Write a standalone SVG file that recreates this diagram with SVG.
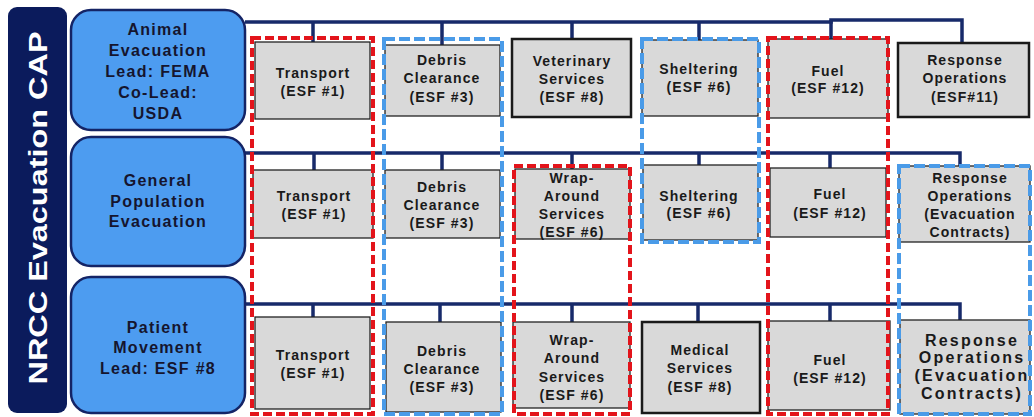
<svg xmlns="http://www.w3.org/2000/svg" width="1034" height="417" viewBox="0 0 1034 417">
<style>
.bar{fill:#0b1b5c}
.title{font-family:"Liberation Sans",Arial,sans-serif;font-weight:bold;font-size:26px;fill:#ffffff}
.cap{fill:#4d9cf0;stroke:#142466;stroke-width:2.5}
.ct{font-family:"Liberation Sans",Arial,sans-serif;font-weight:bold;font-size:16px;letter-spacing:1.3px;fill:#15152e;text-anchor:middle}
.box{fill:#d9d9d9;stroke:#222;stroke-width:1.3}
.boxs{fill:#d9d9d9;stroke:#1a1a1a;stroke-width:2.5}
.t{font-family:"Liberation Sans",Arial,sans-serif;font-weight:bold;font-size:14px;letter-spacing:1.1px;fill:#1a1a1a;text-anchor:middle}
.tb{font-family:"Liberation Sans",Arial,sans-serif;font-weight:bold;font-size:16px;letter-spacing:2.2px;fill:#1a1a1a;text-anchor:middle}
.con{fill:none;stroke:#172a6a;stroke-width:3.5}
.red{fill:none;stroke:#e3141b;stroke-width:4;stroke-dasharray:9 4}
.blue{fill:none;stroke:#4a9be8;stroke-width:4;stroke-dasharray:11 4}
</style>
<rect width="1034" height="417" fill="#ffffff"/>
<g id="title-bar">
<rect class="bar" x="8" y="7" width="59" height="406" rx="9"/>
<text class="title" transform="translate(47,208) rotate(-90)" text-anchor="middle" textLength="353" lengthAdjust="spacingAndGlyphs">NRCC Evacuation CAP</text>
</g>
<g id="connectors">
<path class="con" d="M245,22 H831 V20 H962 V43"/>
<path class="con" d="M313,22 V42 M442,22 V45 M572,22 V39 M699,22 V40 M831,20 V39"/>
<path class="con" d="M245,153 H960 V166"/>
<path class="con" d="M314,153 V170 M442,153 V170 M572,153 V169 M699,153 V165 M830,153 V168"/>
<path class="con" d="M245,304 H960 V320"/>
<path class="con" d="M313,304 V317 M440,304 V322 M572,304 V322 M698,304 V322 M830,304 V321"/>
</g>
<g id="animal-evacuation">
<rect class="cap" x="71" y="10" width="174" height="120" rx="20"/>
<text class="ct" x="158" y="35">Animal</text>
<text class="ct" x="158" y="56">Evacuation</text>
<text class="ct" x="158" y="77">Lead: FEMA</text>
<text class="ct" x="158" y="98">Co-Lead:</text>
<text class="ct" x="158" y="119">USDA</text>
</g>
<g id="general-population">
<rect class="cap" x="71" y="137" width="174" height="129" rx="20"/>
<text class="ct" x="158" y="186">General</text>
<text class="ct" x="158" y="207">Population</text>
<text class="ct" x="158" y="227">Evacuation</text>
</g>
<g id="patient-movement">
<rect class="cap" x="71" y="277" width="174" height="136" rx="20"/>
<text class="ct" x="158" y="333">Patient</text>
<text class="ct" x="158" y="353">Movement</text>
<text class="ct" x="158" y="374">Lead: ESF #8</text>
</g>
<g id="a-transport">
<rect class="box" x="255" y="42" width="115" height="77"/>
<text class="t" x="313" y="78">Transport</text>
<text class="t" x="313" y="96">(ESF #1)</text>
</g>
<g id="a-debris">
<rect class="box" x="385" y="45" width="115" height="71"/>
<text class="t" x="442" y="65">Debris</text>
<text class="t" x="442" y="83">Clearance</text>
<text class="t" x="442" y="102">(ESF #3)</text>
</g>
<g id="a-veterinary">
<rect class="boxs" x="512" y="39" width="119" height="78"/>
<text class="t" x="572" y="66">Veterinary</text>
<text class="t" x="572" y="84">Services</text>
<text class="t" x="572" y="102">(ESF #8)</text>
</g>
<g id="a-sheltering">
<rect class="box" x="642" y="40" width="116" height="76"/>
<text class="t" x="699" y="74">Sheltering</text>
<text class="t" x="699" y="92">(ESF #6)</text>
</g>
<g id="a-fuel">
<rect class="box" x="768" y="39" width="120" height="79"/>
<text class="t" x="828" y="76">Fuel</text>
<text class="t" x="828" y="93">(ESF #12)</text>
</g>
<g id="a-response">
<rect class="boxs" x="898" y="43" width="131" height="74"/>
<text class="t" x="965" y="65">Response</text>
<text class="t" x="965" y="83">Operations</text>
<text class="t" x="965" y="102">(ESF#11)</text>
</g>
<g id="g-transport">
<rect class="box" x="253" y="170" width="120" height="68"/>
<text class="t" x="314" y="201">Transport</text>
<text class="t" x="314" y="219">(ESF #1)</text>
</g>
<g id="g-debris">
<rect class="box" x="385" y="170" width="115" height="68"/>
<text class="t" x="442" y="192">Debris</text>
<text class="t" x="442" y="210">Clearance</text>
<text class="t" x="442" y="228">(ESF #3)</text>
</g>
<g id="g-wraparound">
<rect class="box" x="515" y="169" width="115" height="70"/>
<text class="t" x="572" y="183">Wrap-</text>
<text class="t" x="572" y="201">Around</text>
<text class="t" x="572" y="219">Services</text>
<text class="t" x="572" y="237">(ESF #6)</text>
</g>
<g id="g-sheltering">
<rect class="box" x="643" y="165" width="115" height="75"/>
<text class="t" x="699" y="201">Sheltering</text>
<text class="t" x="699" y="218">(ESF #6)</text>
</g>
<g id="g-fuel">
<rect class="box" x="770" y="168" width="116" height="69"/>
<text class="t" x="830" y="199">Fuel</text>
<text class="t" x="830" y="218">(ESF #12)</text>
</g>
<g id="g-response">
<rect class="box" x="899" y="166" width="131" height="76"/>
<text class="t" x="970" y="183">Response</text>
<text class="t" x="970" y="201">Operations</text>
<text class="t" x="970" y="219">(Evacuation</text>
<text class="t" x="970" y="237">Contracts)</text>
</g>
<g id="p-transport">
<rect class="box" x="255" y="317" width="115" height="92"/>
<text class="t" x="313" y="360">Transport</text>
<text class="t" x="313" y="378">(ESF #1)</text>
</g>
<g id="p-debris">
<rect class="box" x="386" y="322" width="115" height="90"/>
<text class="t" x="442" y="356">Debris</text>
<text class="t" x="442" y="374">Clearance</text>
<text class="t" x="442" y="392">(ESF #3)</text>
</g>
<g id="p-wraparound">
<rect class="box" x="513" y="322" width="117" height="86"/>
<text class="t" x="572" y="345">Wrap-</text>
<text class="t" x="572" y="363">Around</text>
<text class="t" x="572" y="382">Services</text>
<text class="t" x="572" y="400">(ESF #6)</text>
</g>
<g id="p-medical">
<rect class="boxs" x="642" y="322" width="118" height="91"/>
<text class="t" x="700" y="355">Medical</text>
<text class="t" x="700" y="373">Services</text>
<text class="t" x="700" y="392">(ESF #8)</text>
</g>
<g id="p-fuel">
<rect class="box" x="768" y="321" width="122" height="89"/>
<text class="t" x="830" y="365">Fuel</text>
<text class="t" x="830" y="383">(ESF #12)</text>
</g>
<g id="p-response">
<rect class="box" x="900" y="320" width="130" height="94"/>
<text class="tb" x="972" y="346">Response</text>
<text class="tb" x="972" y="363">Operations</text>
<text class="tb" x="972" y="381">(Evacuation</text>
<text class="tb" x="972" y="399">Contracts)</text>
</g>
<g id="groupings">
<rect class="red" x="252" y="38" width="121" height="376"/>
<rect class="blue" x="384" y="39" width="118" height="375"/>
<rect class="red" x="514" y="166" width="116" height="248"/>
<rect class="blue" x="642" y="39" width="117" height="203"/>
<rect class="red" x="768" y="38" width="120" height="376"/>
<rect class="blue" x="899" y="166" width="131" height="248"/>
</g>
</svg>
